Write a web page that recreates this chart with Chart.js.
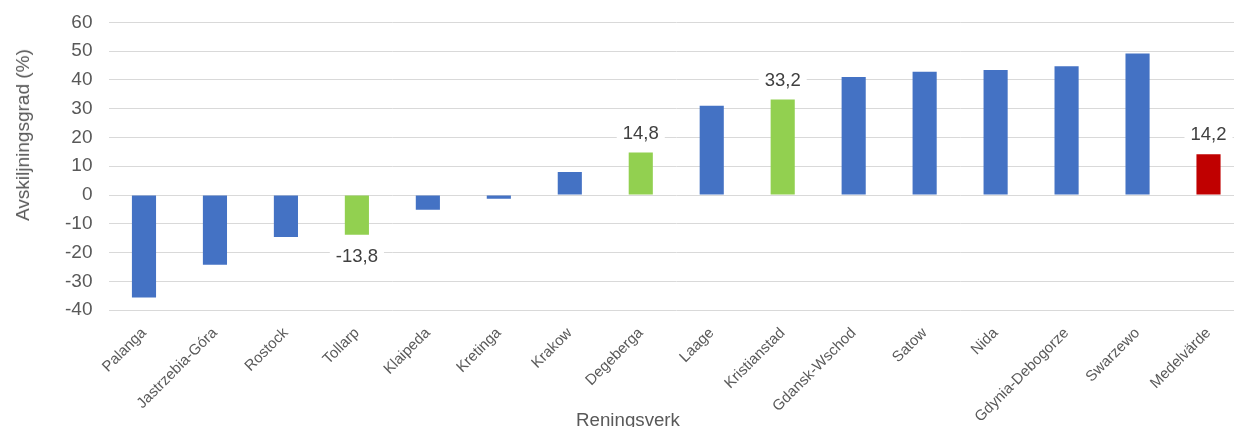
<!DOCTYPE html>
<html>
<head>
<meta charset="utf-8">
<script src="https://cdn.jsdelivr.net/npm/chart.js@4/dist/chart.umd.min.js"></script>
<style>
html,body{margin:0;padding:0;overflow:hidden;background:#fff;width:1234px;height:427px;}
#wrap{position:relative;width:1244px;height:427px;}
canvas{display:block;}
.axt{position:absolute;font-family:"Liberation Sans",Arial,sans-serif;color:#595959;white-space:nowrap;}
#yt{font-size:19px;left:22.5px;top:135px;transform:translate(-50%,-50%) rotate(-90deg);}
#xt{font-size:18.7px;left:628px;top:409px;transform:translateX(-50%);}
</style>
</head>
<body>
<div id="wrap">
<canvas id="c" width="1244" height="427"></canvas>
<div class="axt" id="yt">Avskiljningsgrad (%)</div>
<div class="axt" id="xt">Reningsverk</div>
</div>
<script>
const categories = ["Palanga","Jastrzebia-Góra","Rostock","Tollarp","Klaipeda","Kretinga","Krakow","Degeberga","Laage","Kristianstad","Gdansk-Wschod","Satow","Nida","Gdynia-Debogorze","Swarzewo","Medelvärde"];
const values = [-35.6,-24.2,-14.6,-13.8,-5.1,-1.3,8.0,14.8,31.0,33.2,41.0,42.8,43.4,44.7,49.2,14.2];
const barColors = ["#4472C4","#4472C4","#4472C4","#92D050","#4472C4","#4472C4","#4472C4","#92D050","#4472C4","#92D050","#4472C4","#4472C4","#4472C4","#4472C4","#4472C4","#C00000"];
const labelled = ["Tollarp","Degeberga","Kristianstad","Medelvärde"];
const yTicks = [-40,-30,-20,-10,0,10,20,30,40,50,60];

const labelPlugin = {
  id: 'valueLabels',
  afterDatasetsDraw(chart) {
    const ctx = chart.ctx;
    const meta = chart.getDatasetMeta(0);
    ctx.save();
    ctx.font = '18.5px "Liberation Sans", Arial, sans-serif';
    ctx.textAlign = 'center';
    ctx.textBaseline = 'middle';
    meta.data.forEach((bar, i) => {
      if (!labelled.includes(categories[i])) return;
      const v = values[i];
      const txt = v.toFixed(1).replace('.', ',');
      const y = v >= 0 ? bar.y - 20 : bar.y + 21;
      const w = ctx.measureText(txt).width + 12;
      ctx.fillStyle = '#ffffff';
      ctx.fillRect(bar.x - w / 2, y - 12, w, 24);
      ctx.fillStyle = '#404040';
      ctx.fillText(txt, bar.x, y + 1);
    });
    ctx.restore();
  }
};

new Chart(document.getElementById('c'), {
  type: 'bar',
  data: {
    labels: categories,
    datasets: [{
      data: values,
      backgroundColor: barColors,
      borderWidth: 0,
      barPercentage: 0.34,
      categoryPercentage: 1.0
    }]
  },
  options: {
    responsive: false,
    animation: false,
    layout: { padding: { top: 22.3, left: 0, right: 0, bottom: 0 } },
    plugins: { legend: { display: false }, tooltip: { enabled: false } },
    scales: {
      x: {
        grid: { display: false },
        border: { display: false },
        ticks: {
          color: '#595959',
          font: { family: '"Liberation Sans", Arial, sans-serif', size: 15 },
          minRotation: 45, maxRotation: 45, autoSkip: false, padding: 6
        },
        afterFit(scale) { scale.height = 116.8; scale.paddingTop = 0; scale.paddingBottom = 0; }
      },
      y: {
        min: -40, max: 60,
        afterBuildTicks(scale) { scale.ticks = yTicks.map(v => ({ value: v })); },
        grid: { color: '#D9D9D9', lineWidth: 1, drawTicks: false },
        border: { display: false },
        ticks: {
          color: '#595959',
          font: { family: '"Liberation Sans", Arial, sans-serif', size: 19 },
          padding: 16
        },
        afterFit(scale) { scale.width = 108.5; scale.paddingTop = 0; scale.paddingBottom = 0; }
      }
    }
  },
  plugins: [labelPlugin]
});
</script>
</body>
</html>
